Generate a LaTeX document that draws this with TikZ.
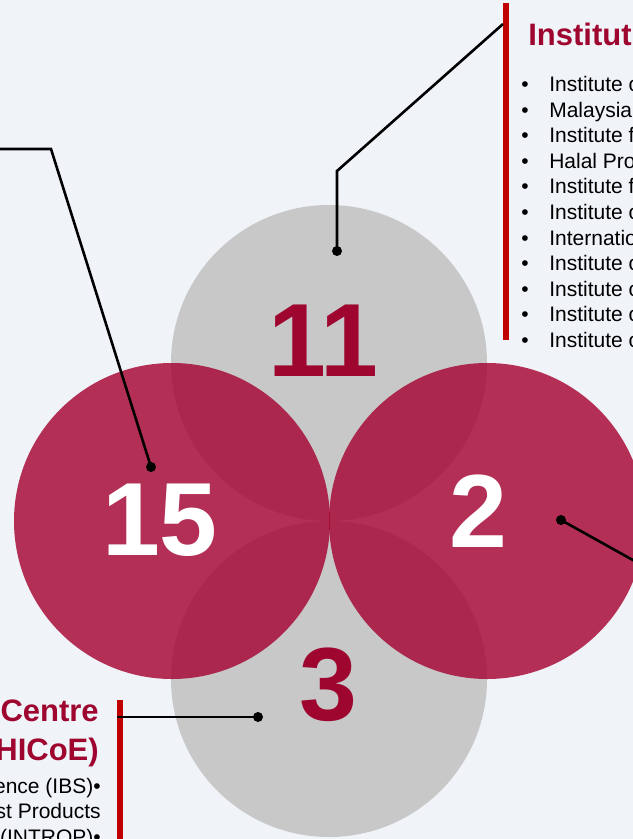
\documentclass[tikz,border=0pt]{standalone}
\usepackage{fontspec}
\setmainfont{Liberation Sans}
\usetikzlibrary{calc}

\definecolor{bgcol}{RGB}{240,244,249}
\definecolor{greycirc}{RGB}{200,200,200}
\definecolor{redcirc}{RGB}{166,4,50}
\definecolor{darkred}{RGB}{158,6,48}
\definecolor{barred}{RGB}{192,0,0}

\begin{document}
\begin{tikzpicture}[
    x=1bp, y=-1bp,
    line width = 2.6bp,
    every node/.style={inner sep=0pt},
    count/.style={font=\bfseries\fontsize{104bp}{104bp}\selectfont},
    dot/.style={circle, fill=black, minimum size=10bp},
    bar/.style={barred, line width=5.5bp},
    heading/.style={font=\bfseries\fontsize{31bp}{38bp}\selectfont, text=darkred},
    item/.style={font=\fontsize{21bp}{25bp}\selectfont}
    ]

    % Determines the boundries
    \path [use as bounding box] (0,0) rectangle (633,839);
    \clip (0,0) rectangle (633,839);
    \fill[bgcol] (0,0) rectangle (633,839);

    \def\rad{158bp}
    \def\op{0.82}
    \def\gap{25.56}

    \coordinate (T) at (329,363);
    \coordinate (B) at (329,679);
    \coordinate (L) at (172,521);
    \coordinate (R) at (487,521);

    % Grey circles first, red ones above them
    \foreach \c in {T,B}{
        \fill[greycirc] (\c) circle [radius=\rad];
    }
    \foreach \c in {L,R}{
        \fill[redcirc, fill opacity=\op] (\c) circle [radius=\rad];
    }

    % Counts in each circle
    \node (N11) [count, text=darkred] at (323,341) {11};
    \node (N15) [count, text=white] at (160,520) {15};
    \node (N2)  [count, text=white] at (478,511) {2};
    \node (N3)  [count, text=darkred] at (328,685) {3};

    % Red bars beside the lists
    \draw[bar] (506,3) -- (506,340);
    \draw[bar] (120,700) -- (120,845);

    % Pointers
    \node (dT) [dot] at (337,251) {};
    \node (dL) [dot] at (151,467) {};
    \node (dR) [dot] at (561,520) {};
    \node (dB) [dot] at (258,717) {};

    \coordinate (kT) at (337,171);
    \coordinate (eT) at (503,24);
    \coordinate (kL) at (51,149);
    \coordinate (eL) at (-5,149);
    \coordinate (eR) at (640,564);
    \coordinate (eB) at (117,717);

    \draw (dT.center) -- (kT) -- (eT);
    \draw (dL.center) -- (kL) -- (eL);
    \draw (dR.center) -- (eR);
    \draw (dB.center) -- (eB);

    % List at the top right
    \node (hInst) [heading, anchor=base west] at (527,45) {Institut};
    \foreach \t [count=\n from 0] in {Institute o, Malaysia, Institute f,
        Halal Pro, Institute f, Institute o, Internatio, Institute o,
        Institute o, Institute o, Institute o}{
        \node (b\n) [item, anchor=base west] at (520,{91.7+\n*\gap}) {•};
        \node (i\n) [item, anchor=base west] at (548,{91.7+\n*\gap}) {\t};
    }

    % List at the bottom left
    \node (hCen) [heading, anchor=base east] at (100,721) {Centre};
    \node (hHic) [heading, anchor=base east] at (100,760) {HICoE)};
    \foreach \t [count=\n from 0] in {ence (IBS)•, st Products, (INTROP)•}{
        \node (j\n) [item, anchor=base east] at (102,{793.3+\n*\gap}) {\t};
    }

\end{tikzpicture}
\end{document}
